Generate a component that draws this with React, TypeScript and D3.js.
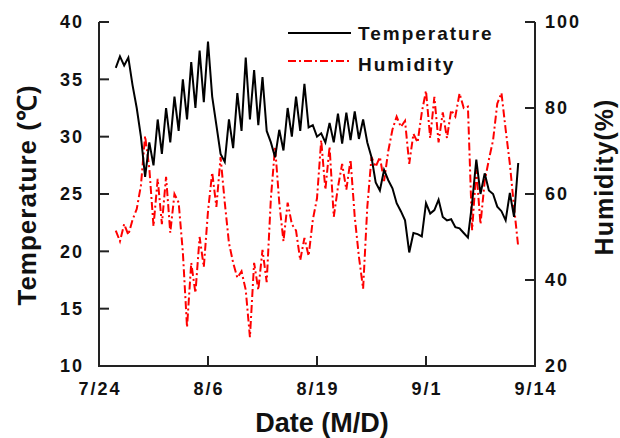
import React from "react";
import * as d3 from "d3";

// Dates: x axis tick labels (M/D) and day offsets from 7/24
const tickLabels = ["7/24", "8/6", "8/19", "9/1", "9/14"];
const tickDays = [0, 13, 26, 39, 52];
const tempTicks = [10, 15, 20, 25, 30, 35, 40];
const humTicks = [20, 40, 60, 80, 100];

// Samples every half day, starting at day 2 (7/26)
const startDay = 2;
const stepDay = 0.5;

const temperature = [
  36.0, 37.0, 36.2, 36.9, 34.5, 32.5, 30.0, 26.5, 29.5, 27.5,
  31.5, 28.5, 32.5, 29.5, 33.5, 30.5, 35.0, 31.5, 36.5, 32.5,
  37.5, 33.0, 38.3, 33.5, 31.0, 28.5, 27.8, 31.5, 29.0, 33.8,
  30.5, 36.9, 31.5, 35.8, 31.0, 35.2, 30.5, 29.5, 28.2, 30.6,
  28.8, 32.5, 30.0, 33.5, 30.5, 34.6, 30.8, 31.0, 30.0, 30.3,
  29.5, 31.2, 29.5, 32.0, 29.4, 32.1, 29.7, 32.2, 29.8, 31.5,
  29.5, 28.2, 26.0, 25.3, 27.1, 26.2, 25.5, 24.2, 23.5, 22.7,
  19.9, 21.6, 21.5, 21.3, 24.2, 23.3, 23.6, 24.5, 23.0, 22.7,
  22.8, 22.1, 22.0, 21.6, 21.2, 24.2, 28.0, 25.0, 26.8, 25.3,
  25.0, 23.9, 23.5, 22.7, 25.1, 23.0, 27.7,
];

const humidity = [
  51.5, 49.0, 53.0, 50.5, 54.0, 56.5, 62.0, 73.5, 66.0, 52.5,
  63.5, 53.0, 64.0, 51.0, 60.0, 58.0, 46.5, 29.0, 44.0, 37.0,
  50.0, 43.0, 56.0, 65.0, 57.0, 68.6, 58.0, 48.6, 44.0, 40.5,
  42.0, 37.7, 26.7, 44.0, 37.7, 47.0, 39.5, 59.0, 71.0, 58.0,
  49.0, 58.0, 53.0, 51.5, 44.6, 49.8, 45.6, 54.0, 59.0, 72.5,
  61.0, 71.0, 54.7, 61.6, 67.0, 61.0, 68.0, 54.7, 45.4, 38.0,
  57.0, 68.6, 66.3, 68.6, 63.0, 70.0, 75.0, 78.0, 75.6, 77.0,
  67.0, 74.0, 72.0, 79.0, 84.0, 73.0, 82.6, 72.0, 79.0, 73.0,
  79.5, 78.0, 83.4, 80.0, 80.3, 51.6, 65.6, 53.0, 63.0, 68.0,
  72.5, 81.0, 83.5, 75.0, 67.0, 57.0, 47.7,
];

const W = 620;
const H = 438;
const left = 99;
const right = 535;
const top = 22;
const bottom = 366;
const font = "'Liberation Sans', Arial, sans-serif";
const axisColor = "#222";
const textColor = "#111";

export default function App() {
  const x = d3.scaleLinear().domain([0, 52]).range([left, right]);
  const yT = d3.scaleLinear().domain([10, 40]).range([bottom, top]);
  const yH = d3.scaleLinear().domain([20, 100]).range([bottom, top]);

  const tLine = d3
    .line<number>()
    .x((_, i) => x(startDay + i * stepDay))
    .y((d) => yT(d));
  const hLine = d3
    .line<number>()
    .x((_, i) => x(startDay + i * stepDay))
    .y((d) => yH(d));

  const dash = "8,3,2,3";
  const tickFont = 18;
  const tickSpacing = 2;

  return (
    <svg
      width={W}
      height={H}
      style={{ position: "absolute", left: 0, top: 0, background: "#fff" }}
      fontFamily={font}
      fontWeight="bold"
    >
      <rect x={0} y={0} width={W} height={H} fill="#fff" />
      {/* Humidity series */}
      <path
        d={hLine(humidity) || ""}
        fill="none"
        stroke="#ff0000"
        strokeWidth={2}
        strokeDasharray={dash}
      />
      {/* Temperature series */}
      <path d={tLine(temperature) || ""} fill="none" stroke="#000" strokeWidth={2} />

      {/* Axes */}
      <line x1={left} y1={top} x2={left} y2={bottom} stroke={axisColor} strokeWidth={2} />
      <line x1={right} y1={top} x2={right} y2={bottom} stroke={axisColor} strokeWidth={2} />
      <line x1={left - 1} y1={bottom} x2={right + 1} y2={bottom} stroke={axisColor} strokeWidth={2} />

      {tempTicks.map((t) => (
        <g key={"t" + t}>
          <line x1={left} x2={left + 10} y1={yT(t)} y2={yT(t)} stroke={axisColor} strokeWidth={2} />
          <text
            x={84}
            y={yT(t)}
            dy="0.36em"
            textAnchor="end"
            fontSize={tickFont}
            letterSpacing={tickSpacing}
            fill={textColor}
          >
            {t}
          </text>
        </g>
      ))}
      {humTicks.map((h) => (
        <g key={"h" + h}>
          <line x1={right - 10} x2={right} y1={yH(h)} y2={yH(h)} stroke={axisColor} strokeWidth={2} />
          <text
            x={545}
            y={yH(h)}
            dy="0.36em"
            textAnchor="start"
            fontSize={tickFont}
            letterSpacing={tickSpacing}
            fill={textColor}
          >
            {h}
          </text>
        </g>
      ))}
      {tickDays.map((d, i) => (
        <g key={"d" + d}>
          <line x1={x(d)} x2={x(d)} y1={bottom} y2={bottom - 10} stroke={axisColor} strokeWidth={2} />
          <text
            x={x(d) + 1}
            y={389}
            dy="0.36em"
            textAnchor="middle"
            fontSize={tickFont}
            letterSpacing={tickSpacing}
            fill={textColor}
          >
            {tickLabels[i]}
          </text>
        </g>
      ))}

      {/* Axis titles */}
      <text
        transform={`translate(36, 195) rotate(-90)`}
        textAnchor="middle"
        fontSize={26}
        letterSpacing={1}
        fill={textColor}
      >
        Temperature (℃)
      </text>
      <text
        transform={`translate(613, 177) rotate(-90)`}
        textAnchor="middle"
        fontSize={25}
        letterSpacing={1}
        fill={textColor}
      >
        Humidity(%)
      </text>
      <text x={322} y={432} textAnchor="middle" fontSize={27} fill={textColor}>
        Date (M/D)
      </text>

      {/* Legend */}
      <line x1={288} x2={351} y1={33} y2={33} stroke="#000" strokeWidth={2} />
      <text x={358} y={33.5} dy="0.36em" fontSize={19} letterSpacing={2} fill={textColor}>
        Temperature
      </text>
      <line x1={288} x2={351} y1={61} y2={61} stroke="#ff0000" strokeWidth={2} strokeDasharray={dash} />
      <text x={358} y={64} dy="0.36em" fontSize={19} letterSpacing={2} fill={textColor}>
        Humidity
      </text>
    </svg>
  );
}
